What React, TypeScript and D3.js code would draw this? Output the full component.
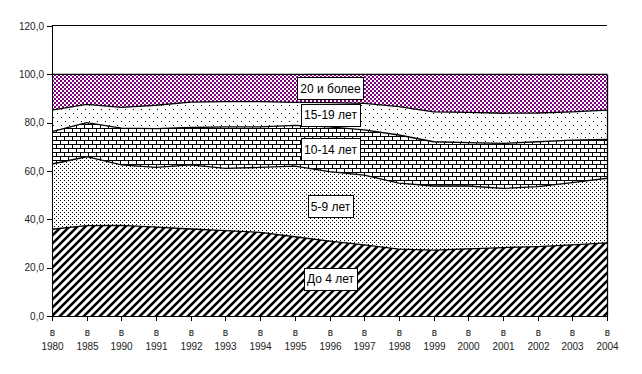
import { useEffect, useRef } from "react";
import * as d3 from "d3";

const years = ["1980", "1985", "1990", "1991", "1992", "1993", "1994", "1995", "1996", "1997", "1998", "1999", "2000", "2001", "2002", "2003", "2004"];
const seriesNames = ["До 4 лет", "5-9 лет", "10-14 лет", "15-19 лет", "20 и более"];
const age0to4 = [35.9, 37.4, 37.5, 36.8, 36.0, 35.3, 34.6, 32.8, 31.0, 29.4, 27.7, 27.3, 27.8, 28.3, 28.7, 29.4, 30.3];
const age5to9 = [27.0, 28.5, 25.0, 24.7, 26.5, 25.8, 26.9, 29.2, 28.7, 28.9, 27.3, 26.5, 26.0, 24.5, 24.8, 25.8, 26.7];
const age10to14 = [13.4, 14.1, 15.2, 16.0, 15.5, 17.2, 16.8, 16.9, 18.6, 18.7, 19.9, 18.3, 17.9, 18.6, 18.6, 17.6, 16.1];
const age15to19 = [8.9, 7.6, 8.6, 9.7, 10.5, 10.4, 10.4, 9.5, 10.0, 11.0, 11.7, 12.4, 12.6, 12.5, 11.9, 11.7, 12.1];
const age20plus = [14.8, 12.4, 13.7, 12.8, 11.5, 11.3, 11.3, 11.6, 11.7, 12.0, 13.4, 15.5, 15.7, 16.1, 16.0, 15.5, 14.8];
const yTicks = [0, 20, 40, 60, 80, 100, 120];

const App = () => {
  const ref = useRef<SVGSVGElement>(null);

  useEffect(() => {
    if (!ref.current) return;
    const svg = d3.select(ref.current);
    svg.selectAll("*").remove();

    const left = 52;
    const right = 607;
    const top = 26;
    const bottom = 316;
    const font = "Arial, 'Liberation Sans', sans-serif";

    const series = [age0to4, age5to9, age10to14, age15to19, age20plus];
    const rows = years.map((y, i) => {
      const row: Record<string, number | string> = { year: y };
      seriesNames.forEach((n, k) => (row[n] = series[k][i]));
      return row;
    });
    const stacked = d3.stack<any>().keys(seriesNames)(rows);

    const x = d3.scalePoint<string>().domain(years).range([left, right]);
    const y = d3.scaleLinear().domain([0, 120]).range([bottom, top]);

    // fill patterns
    const defs = svg.append("defs");
    const p1 = defs.append("pattern").attr("id", "pStripe").attr("patternUnits", "userSpaceOnUse")
      .attr("width", 8).attr("height", 8);
    p1.append("rect").attr("width", 8).attr("height", 8).attr("fill", "white");
    p1.append("path").attr("d", "M-2,2 L2,-2 M0,8 L8,0 M6,10 L10,6")
      .attr("stroke", "black").attr("stroke-width", 2.6);

    const p2 = defs.append("pattern").attr("id", "pDots").attr("patternUnits", "userSpaceOnUse")
      .attr("width", 4).attr("height", 4);
    p2.append("rect").attr("width", 4).attr("height", 4).attr("fill", "white");
    p2.append("rect").attr("x", 0).attr("y", 0).attr("width", 1).attr("height", 1).attr("fill", "black");
    p2.append("rect").attr("x", 2).attr("y", 2).attr("width", 1).attr("height", 1).attr("fill", "black");

    const p3 = defs.append("pattern").attr("id", "pBrick").attr("patternUnits", "userSpaceOnUse")
      .attr("width", 8).attr("height", 8);
    p3.append("rect").attr("width", 8).attr("height", 8).attr("fill", "white");
    p3.append("rect").attr("x", 0).attr("y", 0).attr("width", 8).attr("height", 1).attr("fill", "black");
    p3.append("rect").attr("x", 0).attr("y", 4).attr("width", 8).attr("height", 1).attr("fill", "black");
    p3.append("rect").attr("x", 0).attr("y", 0).attr("width", 1).attr("height", 4).attr("fill", "black");
    p3.append("rect").attr("x", 4).attr("y", 4).attr("width", 1).attr("height", 4).attr("fill", "black");

    const p4 = defs.append("pattern").attr("id", "pSparse").attr("patternUnits", "userSpaceOnUse")
      .attr("width", 8).attr("height", 8);
    p4.append("rect").attr("width", 8).attr("height", 8).attr("fill", "white");
    p4.append("rect").attr("x", 1).attr("y", 1).attr("width", 1).attr("height", 1).attr("fill", "black");
    p4.append("rect").attr("x", 5).attr("y", 5).attr("width", 1).attr("height", 1).attr("fill", "black");

    const p5 = defs.append("pattern").attr("id", "pCheck").attr("patternUnits", "userSpaceOnUse")
      .attr("width", 4).attr("height", 4);
    p5.append("rect").attr("width", 4).attr("height", 4).attr("fill", "white");
    p5.append("rect").attr("x", 0).attr("y", 0).attr("width", 2).attr("height", 2).attr("fill", "#800080");
    p5.append("rect").attr("x", 2).attr("y", 2).attr("width", 2).attr("height", 2).attr("fill", "#800080");

    const fills = ["url(#pStripe)", "url(#pDots)", "url(#pBrick)", "url(#pSparse)", "url(#pCheck)"];

    const area = d3.area<any>()
      .x((d) => x(d.data.year) as number)
      .y0((d) => y(d[0]))
      .y1((d) => y(d[1]));
    const topLine = d3.line<any>()
      .x((d) => x(d.data.year) as number)
      .y((d) => y(d[1]));

    svg.append("g").selectAll("path").data(stacked).enter().append("path")
      .attr("d", (d) => area(d))
      .attr("fill", (_d, i) => fills[i])
      .attr("shape-rendering", "crispEdges");

    svg.append("g").selectAll("path").data(stacked).enter().append("path")
      .attr("d", (d) => topLine(d))
      .attr("fill", "none")
      .attr("stroke", "black")
      .attr("stroke-width", 1.3);

    // right edge of the areas
    const lastTop = stacked[stacked.length - 1][years.length - 1][1];
    svg.append("line")
      .attr("x1", right + 0.5).attr("x2", right + 0.5)
      .attr("y1", y(lastTop)).attr("y2", bottom)
      .attr("stroke", "black").attr("stroke-width", 1.3);

    // top border of plot
    svg.append("line")
      .attr("x1", left).attr("x2", right)
      .attr("y1", top - 0.5).attr("y2", top - 0.5)
      .attr("stroke", "black").attr("stroke-width", 1);

    // y axis
    const yAxis = svg.append("g");
    yAxis.append("line").attr("x1", left + 0.5).attr("x2", left + 0.5)
      .attr("y1", top).attr("y2", bottom).attr("stroke", "black");
    yTicks.forEach((t) => {
      yAxis.append("line").attr("x1", left - 5).attr("x2", left)
        .attr("y1", Math.round(y(t)) + 0.5).attr("y2", Math.round(y(t)) + 0.5).attr("stroke", "black");
      yAxis.append("text")
        .attr("x", left - 8).attr("y", y(t) + 3.5)
        .attr("text-anchor", "end")
        .attr("font-family", font).attr("font-size", "10px").attr("fill", "#222")
        .text(d3.format(".1f")(t).replace(".", ","));
    });

    // x axis
    const xAxis = svg.append("g");
    xAxis.append("line").attr("x1", left).attr("x2", right + 1)
      .attr("y1", bottom + 0.5).attr("y2", bottom + 0.5).attr("stroke", "black");
    years.forEach((yr) => {
      const px = Math.round(x(yr) as number) + 0.5;
      xAxis.append("line").attr("x1", px).attr("x2", px)
        .attr("y1", bottom).attr("y2", bottom + 5).attr("stroke", "black");
      xAxis.append("text").attr("x", px).attr("y", bottom + 20)
        .attr("text-anchor", "middle").attr("font-family", font).attr("font-size", "10px").attr("fill", "#222")
        .text("в");
      xAxis.append("text").attr("x", px).attr("y", bottom + 34)
        .attr("text-anchor", "middle").attr("font-family", font).attr("font-size", "10px").attr("fill", "#222")
        .text(yr);
    });

    // series labels
    const labelIdx = 8;
    const labels = svg.append("g");
    stacked.forEach((s, i) => {
      const d = s[labelIdx];
      const cx = (x(years[labelIdx]) as number) + 1;
      const cy = y((d[0] + d[1]) / 2);
      const g = labels.append("g");
      const txt = g.append("text")
        .attr("x", cx).attr("y", cy + 4.5)
        .attr("text-anchor", "middle")
        .attr("font-family", font).attr("font-size", "12px").attr("fill", "black")
        .text(seriesNames[i]);
      const w = (txt.node() as SVGTextElement).getComputedTextLength() + 6;
      g.insert("rect", "text")
        .attr("x", Math.round(cx - w / 2) + 0.5).attr("y", Math.round(cy - 11) + 0.5)
        .attr("width", Math.round(w)).attr("height", 22)
        .attr("fill", "white").attr("stroke", "black").attr("stroke-width", 1);
    });
  }, []);

  return (
    <svg
      ref={ref}
      width={642}
      height={374}
      style={{ position: "absolute", left: 0, top: 0, background: "white" }}
    ></svg>
  );
};

export default App;
